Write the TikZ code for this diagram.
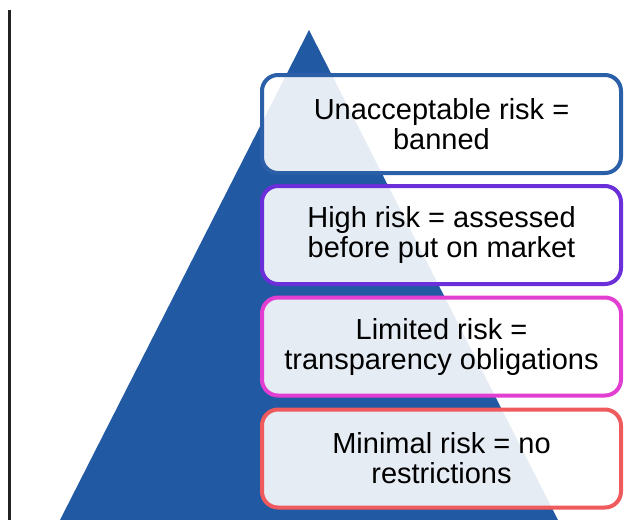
\documentclass[tikz,border=0pt]{standalone}
\usepackage{fontspec}
\setmainfont{Liberation Sans}
\definecolor{pyrblue}{HTML}{2259A3}
\definecolor{tierblue}{HTML}{2B5FA8}
\definecolor{tierpurple}{HTML}{6A2FD8}
\definecolor{tiermagenta}{HTML}{E23ED2}
\definecolor{tiercoral}{HTML}{EF5A5C}
\definecolor{barblack}{HTML}{222222}
\begin{document}
\begin{tikzpicture}[x=1pt,y=-1pt,
  tierbox/.style={draw, line width=4pt, rounded corners=16pt,
    fill=white, fill opacity=0.89, text opacity=1,
    minimum width=359pt, minimum height=98pt, inner sep=0pt,
    align=center, font=\fontsize{29}{30}\selectfont}]
  \useasboundingbox (0,0) rectangle (625,520);
  % vertical rule on the left
  \draw[barblack, line width=3pt] (9,10) -- (9,520);
  % pyramid
  \fill[pyrblue] (309,30) -- (60,520) -- (558,520) -- cycle;
  % risk tiers
  \node[tierbox, draw=tierblue]    (box1) at (441.5,124)   {Unacceptable risk =\\banned};
  \node[tierbox, draw=tierpurple]  (box2) at (441.5,235)   {High risk = assessed\\before put on market};
  \node[tierbox, draw=tiermagenta] (box3) at (441.5,346.5) {Limited risk =\\transparency obligations};
  \node[tierbox, draw=tiercoral]   (box4) at (441.5,458.5) {Minimal risk = no\\restrictions};
\end{tikzpicture}
\end{document}
